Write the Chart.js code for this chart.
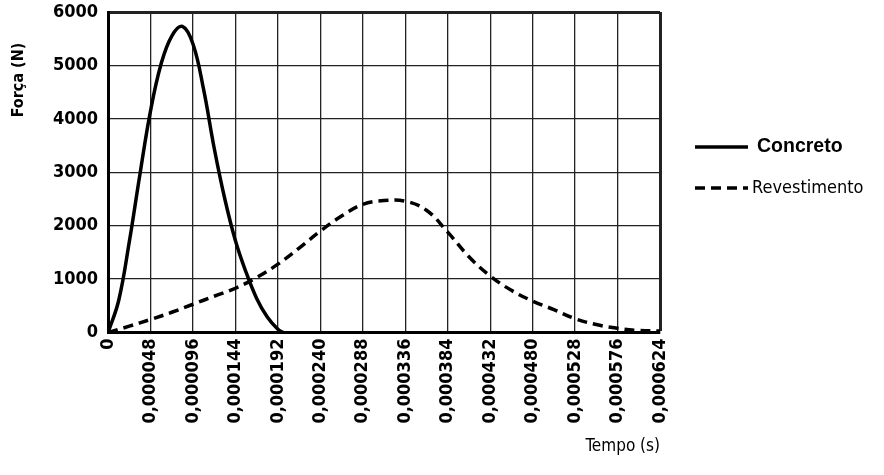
<!DOCTYPE html>
<html>
<head>
<meta charset="utf-8">
<script src="https://cdn.jsdelivr.net/npm/chart.js@4/dist/chart.umd.min.js"></script>
<style>
  html, body { margin: 0; padding: 0; background: #fff; }
  #chart { display: block; }
</style>
</head>
<body>
<canvas id="chart" width="884" height="475"></canvas>
<script>
// time in seconds, force in N
const concretoTime = [0, 0.000012, 0.000024, 0.000036, 0.000048, 0.000060, 0.000072, 0.000084, 0.000096,
    0.000108, 0.000120, 0.000132, 0.000144, 0.000156, 0.000168, 0.000180, 0.000192, 0.000198];
const concretoForce = [0, 600, 1700, 2960, 4150, 5030, 5550, 5730, 5400,
    4550, 3450, 2500, 1720, 1130, 640, 290, 60, 0];

const revestTime = [0, 0.000024, 0.000048, 0.000072, 0.000096, 0.000120, 0.000144, 0.000168, 0.000192,
    0.000216, 0.000240, 0.000264, 0.000288, 0.000312, 0.000336, 0.000360, 0.000384, 0.000408,
    0.000432, 0.000456, 0.000480, 0.000504, 0.000528, 0.000552, 0.000576, 0.000600, 0.000624];
const revestForce = [0, 120, 245, 380, 530, 680, 830, 1030, 1280,
    1580, 1900, 2180, 2400, 2470, 2460, 2290, 1880, 1420,
    1060, 790, 590, 430, 260, 150, 80, 40, 30];

const seriesNames = ['Concreto', 'Revestimento'];
const xTitle = 'Tempo (s)';
const yTitle = 'Força (N)';

const narrow = '"Liberation Sans Narrow", "DejaVu Sans Condensed", "Arial Narrow", sans-serif';

const toPoints = (xs, ys) => xs.map((x, i) => ({ x: x, y: ys[i] }));

// legend + y title drawn by hand so they sit where the original has them
const extras = {
    id: 'extras',
    afterDraw(chart) {
        const ctx = chart.ctx;
        const ds = chart.data.datasets;
        ctx.save();
        ctx.strokeStyle = '#000';
        ctx.fillStyle = '#000';
        ctx.textBaseline = 'middle';

        // legend
        const lx = 695, rows = [147, 188];
        ds.forEach((d, i) => {
            ctx.lineWidth = 3.5;
            ctx.setLineDash(d.borderDash || []);
            ctx.beginPath();
            ctx.moveTo(lx, rows[i]);
            ctx.lineTo(lx + 53, rows[i]);
            ctx.stroke();
            ctx.setLineDash([]);
            ctx.font = i === 0 ? 'bold 19.5px "Liberation Sans", Arial, sans-serif' : '18px ' + narrow;
            ctx.fillText(d.label, i === 0 ? 757 : 752, rows[i]);
        });

        // y axis title
        ctx.translate(19, 80);
        ctx.rotate(-Math.PI / 2);
        ctx.textAlign = 'center';
        ctx.font = 'bold 16px ' + narrow;
        ctx.fillText(yTitle, 0, 0);
        ctx.restore();
    }
};

new Chart(document.getElementById('chart'), {
    type: 'line',
    data: {
        datasets: [{
            label: seriesNames[0],
            data: toPoints(concretoTime, concretoForce),
            borderColor: '#000',
            borderWidth: 3.5,
            pointRadius: 0,
            tension: 0.4,
            fill: false
        }, {
            label: seriesNames[1],
            data: toPoints(revestTime, revestForce),
            borderColor: '#000',
            borderWidth: 3.5,
            borderDash: [10, 6],
            pointRadius: 0,
            tension: 0.4,
            fill: false
        }]
    },
    options: {
        responsive: false,
        animation: false,
        layout: { padding: { left: 43, right: 224, top: 12, bottom: 18 } },
        plugins: {
            legend: { display: false },
            tooltip: { enabled: false }
        },
        scales: {
            x: {
                type: 'linear',
                min: 0,
                max: 0.000624,
                border: { color: '#000', width: 3 },
                grid: {
                    color: '#222',
                    lineWidth: c => (c.tick && Math.abs(c.tick.value - 0.000624) < 1e-9) ? 3 : 1.3,
                    drawTicks: false
                },
                ticks: {
                    stepSize: 0.000048,
                    minRotation: 90,
                    maxRotation: 90,
                    padding: 6,
                    color: '#000',
                    font: { family: narrow, size: 18, weight: 'bold' },
                    callback: v => v === 0 ? '0' : v.toFixed(6).replace('.', ',')
                },
                title: {
                    display: true,
                    text: xTitle,
                    align: 'end',
                    color: '#000',
                    font: { family: narrow, size: 17 },
                    padding: { top: 7, bottom: 0 }
                }
            },
            y: {
                min: 0,
                max: 6000,
                border: { color: '#000', width: 3 },
                grid: {
                    color: '#222',
                    lineWidth: c => (c.tick && c.tick.value === 6000) ? 3 : 1.3,
                    drawTicks: false
                },
                ticks: {
                    stepSize: 1000,
                    padding: 10,
                    color: '#000',
                    font: { family: narrow, size: 18, weight: 'bold' },
                    callback: v => String(v)
                },
                afterFit: s => { s.paddingTop = 0; }
            }
        }
    },
    plugins: [extras]
});
</script>
</body>
</html>
